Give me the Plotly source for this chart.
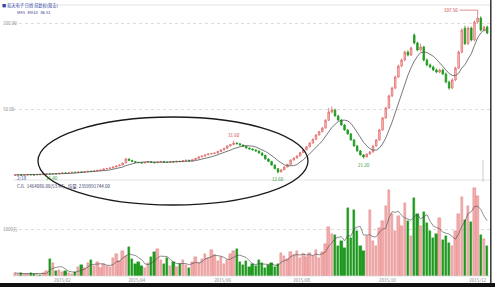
import plotly.graph_objects as go
import pandas as pd

W, H = 495, 287

bar_index = list(range(150))

opens = [
    11.5, 11.6, 11.7, 11.5, 11.6, 11.8, 11.7, 11.6, 11.9, 11.8,
    12.0, 12.2, 12.1, 12.4, 12.3, 12.6, 12.8, 12.7, 12.9, 13.2,
    13.1, 13.4, 13.3, 13.6, 13.8, 13.7, 14.0, 14.3, 14.5, 15.1,
    15.4, 15.7, 16.3, 16.9, 17.4, 18.6, 20.9, 20.1, 19.4, 19.0,
    18.8, 18.6, 18.9, 19.3, 19.0, 18.7, 19.2, 19.5, 19.1, 18.9,
    19.3, 19.2, 19.6, 19.4, 19.9, 20.2, 19.8, 20.5, 21.3, 22.1,
    22.6, 23.3, 23.8, 24.1, 24.4, 25.3, 26.2, 27.1, 28.5, 29.3,
    30.2, 29.8, 29.1, 28.3, 27.3, 26.8, 26.2, 25.6, 24.4, 23.1,
    20.9, 19.5, 17.4, 15.3, 13.4, 14.6, 16.3, 17.8, 20.3, 21.5,
    22.7, 24.6, 26.2, 28.0, 30.2, 32.4, 34.9, 36.8, 39.0, 43.5,
    48.3, 49.4, 46.0, 43.6, 40.7, 37.8, 35.5, 32.0, 28.5, 25.6,
    23.3, 22.1, 23.8, 25.0, 28.5, 32.0, 37.8, 44.8, 50.6, 57.6,
    62.2, 68.6, 75.0, 78.5, 83.1, 81.4, 93.0, 88.4, 84.3, 86.1,
    78.5, 75.6, 74.4, 72.7, 71.5, 72.7, 70.4, 65.7, 62.2, 66.9,
    73.8, 83.1, 97.0, 88.0, 97.1, 90.1, 100.6, 102.9, 95.9, 97.7,
]
highs = [
    11.8, 11.9, 11.8, 11.7, 11.9, 11.9, 11.8, 12.0, 12.0, 12.1,
    12.3, 12.3, 12.5, 12.5, 12.7, 12.9, 12.9, 13.0, 13.3, 13.4,
    13.5, 13.5, 13.7, 13.9, 13.9, 14.1, 14.4, 14.7, 15.3, 15.6,
    15.9, 16.5, 17.1, 17.6, 18.8, 21.6, 21.2, 20.4, 19.7, 19.2,
    19.0, 19.1, 19.5, 19.5, 19.2, 19.4, 19.7, 19.7, 19.3, 19.5,
    19.5, 19.8, 19.8, 20.1, 20.4, 20.4, 20.7, 21.5, 22.4, 22.9,
    23.6, 24.1, 24.3, 24.7, 25.6, 26.5, 27.4, 28.8, 29.7, 31.6,
    30.5, 30.0, 29.3, 28.5, 27.6, 27.0, 26.5, 25.8, 24.7, 23.4,
    21.3, 19.8, 17.7, 15.6, 14.9, 16.6, 18.1, 20.6, 21.8, 23.0,
    24.9, 26.6, 28.4, 30.6, 32.8, 35.3, 37.3, 39.5, 44.1, 50.6,
    51.5, 50.2, 46.6, 44.1, 41.3, 38.3, 36.0, 32.6, 29.0, 26.1,
    23.8, 24.3, 25.6, 28.9, 32.5, 38.4, 45.4, 51.2, 58.3, 63.0,
    69.4, 75.8, 79.3, 84.0, 84.2, 86.3, 94.0, 89.2, 88.0, 86.8,
    79.4, 76.5, 75.3, 73.6, 73.5, 73.6, 71.2, 66.5, 67.8, 74.6,
    84.0, 97.0, 98.5, 98.0, 98.0, 101.5, 107.5, 104.0, 98.6, 98.5,
]
lows = [
    11.4, 11.5, 11.4, 11.4, 11.5, 11.6, 11.5, 11.5, 11.7, 11.7,
    11.9, 12.0, 12.0, 12.2, 12.2, 12.5, 12.6, 12.6, 12.8, 13.0,
    13.0, 13.2, 13.2, 13.5, 13.6, 13.6, 13.9, 14.2, 14.4, 15.0,
    15.3, 15.6, 16.2, 16.8, 17.3, 18.5, 19.9, 19.2, 18.8, 18.6,
    18.4, 18.5, 18.8, 18.8, 18.5, 18.6, 19.0, 18.9, 18.8, 18.8,
    19.0, 19.1, 19.3, 19.3, 19.7, 19.6, 19.7, 20.4, 21.2, 22.0,
    22.5, 23.2, 23.7, 24.0, 24.3, 25.2, 26.1, 27.0, 28.3, 29.1,
    29.5, 28.9, 28.0, 27.0, 26.5, 25.9, 25.3, 24.1, 22.8, 20.6,
    19.2, 17.1, 15.0, 12.6, 13.2, 14.4, 16.1, 17.6, 20.1, 21.3,
    22.5, 24.4, 26.0, 27.8, 29.9, 32.1, 34.6, 36.5, 38.6, 43.1,
    47.4, 45.5, 43.2, 40.3, 37.4, 35.1, 31.6, 28.1, 25.2, 22.9,
    21.2, 21.8, 23.5, 24.7, 28.2, 31.6, 37.4, 44.3, 50.1, 57.0,
    61.6, 68.0, 74.3, 77.8, 80.6, 80.8, 87.5, 83.6, 83.5, 77.7,
    74.8, 73.7, 72.0, 70.8, 70.8, 69.7, 64.9, 61.2, 61.6, 66.2,
    73.1, 82.4, 87.2, 87.3, 89.3, 89.4, 99.8, 95.1, 95.0, 93.5,
]
closes = [
    11.6, 11.7, 11.5, 11.6, 11.8, 11.7, 11.6, 11.9, 11.8, 12.0,
    12.2, 12.1, 12.4, 12.3, 12.6, 12.8, 12.7, 12.9, 13.2, 13.1,
    13.4, 13.3, 13.6, 13.8, 13.7, 14.0, 14.3, 14.5, 15.1, 15.4,
    15.7, 16.3, 16.9, 17.4, 18.6, 20.9, 20.1, 19.4, 19.0, 18.8,
    18.6, 18.9, 19.3, 19.0, 18.7, 19.2, 19.5, 19.1, 18.9, 19.3,
    19.2, 19.6, 19.4, 19.9, 20.2, 19.8, 20.5, 21.3, 22.1, 22.6,
    23.3, 23.8, 24.1, 24.4, 25.3, 26.2, 27.1, 28.5, 29.3, 30.2,
    29.8, 29.1, 28.3, 27.3, 26.8, 26.2, 25.6, 24.4, 23.1, 20.9,
    19.5, 17.4, 15.3, 13.4, 14.6, 16.3, 17.8, 20.3, 21.5, 22.7,
    24.6, 26.2, 28.0, 30.2, 32.4, 34.9, 36.8, 39.0, 43.5, 48.3,
    49.4, 46.0, 43.6, 40.7, 37.8, 35.5, 32.0, 28.5, 25.6, 23.3,
    22.1, 23.8, 25.0, 28.5, 32.0, 37.8, 44.8, 50.6, 57.6, 62.2,
    68.6, 75.0, 78.5, 83.1, 81.4, 85.5, 88.4, 84.3, 86.1, 78.5,
    75.6, 74.4, 72.7, 71.5, 72.7, 70.4, 65.7, 62.2, 66.9, 73.8,
    83.1, 95.9, 88.0, 97.1, 90.1, 100.6, 102.9, 95.9, 97.7, 94.2,
]
volumes = [
    65, 45, 60, 40, 45, 60, 40, 45, 25, 60,
    110, 370, 280, 110, 130, 90, 105, 70, 50, 85,
    200, 240, 170, 280, 350, 220, 300, 175, 260, 215,
    195, 390, 480, 325, 540, 430, 630, 370, 260, 300,
    215, 175, 280, 410, 520, 590, 350, 260, 390, 215,
    300, 195, 260, 350, 240, 175, 300, 410, 280, 370,
    480, 390, 565, 455, 325, 410, 260, 350, 480, 540,
    590, 300, 240, 325, 195, 260, 215, 350, 280, 175,
    240, 280, 195, 260, 500, 430, 370, 520, 455, 540,
    390, 480, 410, 500, 430, 565, 390, 520, 695, 1065,
    910, 890, 650, 760, 610, 1475, 825, 1430, 975, 650,
    540, 870, 1430, 760, 650, 1040, 1195, 1520, 1865, 1345,
    975, 1300, 1085, 1585, 1195, 870, 1690, 1345, 1085, 1390,
    1150, 975, 825, 910, 1260, 780, 870, 715, 650, 975,
    1345, 1715, 1215, 1520, 1170, 1910, 1735, 890, 800, 650,
]

date_tick_index = [15, 38.5, 65.5, 90.5, 117.5, 146]
date_tick_labels = ["2015/02", "2015/04", "2015/06", "2015/08", "2015/10", "2015/12"]

price_ticks = [50, 100]
price_tick_labels = ["50.00", "100.00"]
vol_ticks = [1000]
vol_tick_labels = ["1000万"]

ma_price = pd.Series(closes).rolling(8, min_periods=1).mean()
ma_vol = pd.Series(volumes).rolling(5, min_periods=1).mean()

UP_LINE, UP_FILL = "#e26a6a", "#f8cccc"
DN = "#1f9a1f"
vol_colors = [("#f2aaaa" if c >= o else DN) for o, c in zip(opens, closes)]
vol_lines = [("#e08080" if c >= o else DN) for o, c in zip(opens, closes)]

def px_x(p):
    return p / W

def px_y(p):
    return 1 - p / H

fig = go.Figure()
fig.add_trace(go.Candlestick(
    x=bar_index, open=opens, high=highs, low=lows, close=closes,
    increasing=dict(line=dict(color=UP_LINE, width=0.8), fillcolor=UP_FILL),
    decreasing=dict(line=dict(color=DN, width=0.8), fillcolor=DN),
    whiskerwidth=0, showlegend=False, xaxis="x", yaxis="y",
))
fig.add_trace(go.Scatter(
    x=bar_index, y=ma_price, mode="lines",
    line=dict(color="#555555", width=0.8), showlegend=False,
    xaxis="x", yaxis="y", hoverinfo="skip",
))
fig.add_trace(go.Bar(
    x=bar_index, y=volumes, width=0.75,
    marker=dict(color=vol_colors, line=dict(color=vol_lines, width=0.4)),
    showlegend=False, xaxis="x2", yaxis="y2",
))
fig.add_trace(go.Scatter(
    x=bar_index, y=ma_vol, mode="lines",
    line=dict(color="#444444", width=0.6), showlegend=False,
    xaxis="x2", yaxis="y2", hoverinfo="skip",
))

xdom = [px_x(13), px_x(490)]
xrange_ = [-0.6, 149.9]
grid = dict(showgrid=True, gridcolor="#dcdcdc", griddash="dot", gridwidth=0.6)

fig.update_layout(
    width=W, height=H,
    margin=dict(l=0, r=0, t=0, b=0),
    paper_bgcolor="white", plot_bgcolor="white",
    font=dict(family="Noto Sans CJK SC, DejaVu Sans", size=5, color="#666"),
    xaxis=dict(domain=xdom, range=xrange_, anchor="y", showticklabels=False,
               showgrid=False, zeroline=False, rangeslider=dict(visible=False),
               fixedrange=True),
    yaxis=dict(domain=[px_y(180), px_y(5)], range=[8.7, 110.5], anchor="x",
               tickvals=price_ticks, showticklabels=False, zeroline=False, **grid),
    xaxis2=dict(domain=xdom, range=xrange_, anchor="y2",
                tickvals=date_tick_index, ticktext=date_tick_labels,
                tickfont=dict(size=4.5, color="#888"), ticks="", ticklen=0,
                showgrid=False, zeroline=False),
    yaxis2=dict(domain=[px_y(276), px_y(186)], range=[0, 1950], anchor="x2",
                tickvals=vol_ticks, showticklabels=False, zeroline=False, **grid),
    bargap=0,
)

ann = []
ann.append(dict(x=0, y=1, xref="paper", yref="paper", xanchor="left", yanchor="top",
                text="■ 航天电子 日线 前复权(双击)", showarrow=False,
                font=dict(size=4.2, color="#3346a8")))
ann.append(dict(x=px_x(15), y=px_y(6.5), xref="paper", yref="paper", xanchor="left", yanchor="top",
                text="MA5   MA10   86.51", showarrow=False,
                font=dict(size=4, color="#333388")))
for v, t in zip(price_ticks, price_tick_labels):
    ann.append(dict(x=px_x(1), y=v, xref="paper", yref="y", xanchor="left", yanchor="middle",
                    text=t, showarrow=False, font=dict(size=4.5, color="#888")))
for v, t in zip(vol_ticks, vol_tick_labels):
    ann.append(dict(x=px_x(1), y=v, xref="paper", yref="y2", xanchor="left", yanchor="middle",
                    text=t, showarrow=False, font=dict(size=4.5, color="#888")))
ann.append(dict(x=px_x(15), y=px_y(181), xref="paper", yref="paper", xanchor="left", yanchor="top",
                text="CJL  1464086.00(53.47)   均量  2359991744.00", showarrow=False,
                font=dict(size=4.5, color="#3a3a6a")))
ann.append(dict(x=px_x(15), y=px_y(173), xref="paper", yref="paper", xanchor="left", yanchor="top",
                text="2/18", showarrow=False, font=dict(size=4.5, color="#3346a8")))
ann.append(dict(x=px_x(44), y=px_y(173), xref="paper", yref="paper", xanchor="left", yanchor="top",
                text="11.40", showarrow=False, font=dict(size=4.5, color="#2a9a2a")))
ann.append(dict(x=69, y=highs[69], xref="x", yref="y", yanchor="bottom", yshift=1,
                text="%.2f" % highs[69], showarrow=False, font=dict(size=4.5, color="#d04040")))
ann.append(dict(x=83, y=lows[83], xref="x", yref="y", yanchor="top", yshift=-1,
                text="%.2f" % lows[83], showarrow=False, font=dict(size=4.5, color="#2a9a2a")))
ann.append(dict(x=110, y=lows[110], xref="x", yref="y", yanchor="top", yshift=-1,
                text="%.2f" % lows[110], showarrow=False, font=dict(size=4.5, color="#2a9a2a")))
ann.append(dict(x=146, y=highs[146], xref="x", yref="y", ax=-18, ay=0,
                text="%.2f" % highs[146], showarrow=True, arrowhead=0, arrowwidth=0.6,
                arrowcolor="#d04040", xanchor="right", font=dict(size=4.5, color="#d04040")))
fig.update_layout(annotations=ann)

shapes = []
for yy in (5, 180, 276):
    shapes.append(dict(type="line", xref="paper", yref="paper", x0=px_x(13), x1=px_x(490),
                       y0=px_y(yy), y1=px_y(yy), line=dict(color="#d0d0d0", width=0.6)))
shapes.append(dict(type="line", xref="paper", yref="paper", x0=px_x(483), x1=px_x(483),
                   y0=px_y(160), y1=px_y(182), line=dict(color="#aaaaaa", width=0.6)))
shapes.append(dict(type="circle", xref="paper", yref="paper",
                   x0=px_x(38), x1=px_x(308), y0=px_y(205), y1=px_y(117),
                   line=dict(color="#1a1a1a", width=1.3)))
shapes.append(dict(type="line", xref="paper", yref="paper", x0=px_x(490.8), x1=px_x(490.8),
                   y0=px_y(284), y1=1, line=dict(color="#333333", width=1.5)))
shapes.append(dict(type="rect", xref="paper", yref="paper", x0=0, x1=1,
                   y0=0, y1=px_y(283), fillcolor="#111111", line=dict(width=0)))
fig.update_layout(shapes=shapes)

fig.write_html("out.html")
